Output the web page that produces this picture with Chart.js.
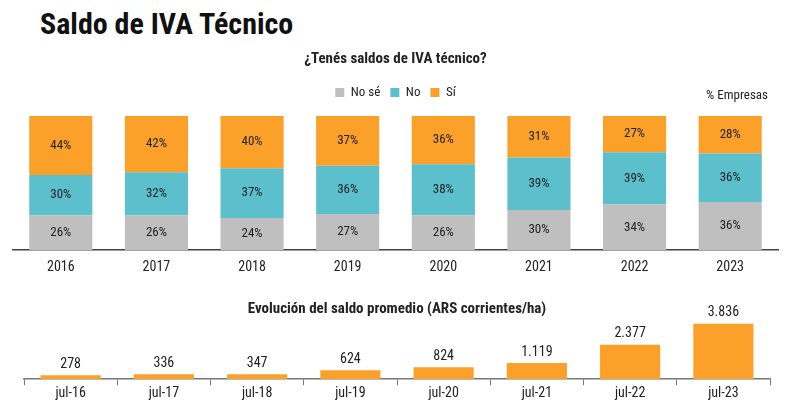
<!DOCTYPE html>
<html>
<head>
<meta charset="utf-8">
<script src="https://cdn.jsdelivr.net/npm/chart.js@4.4.0/dist/chart.umd.min.js"></script>
<style>
  html, body { margin: 0; padding: 0; background: #fff; }
  body { width: 790px; height: 407px; position: relative; overflow: hidden; }
  #title {
    position: absolute; left: 40px; top: 6px;
    font-family: 'Roboto Condensed', 'Liberation Sans Narrow', 'DejaVu Sans Condensed', Roboto, sans-serif;
    font-weight: bold; font-size: 30px; color: #111; white-space: nowrap;
  }
  #top-wrap { position: absolute; left: 0; top: 40px; width: 790px; height: 237px; }
  #bottom-wrap { position: absolute; left: 0; top: 288px; width: 790px; height: 115px; }
</style>
</head>
<body>
<div id="title">Saldo de IVA Técnico</div>
<div id="top-wrap"><canvas id="shareChart"></canvas></div>
<div id="bottom-wrap"><canvas id="saldoChart"></canvas></div>
<script>
const FONT = "'Roboto Condensed', 'Liberation Sans Narrow', 'DejaVu Sans Condensed', Roboto, sans-serif";

// % de empresas por respuesta
const years = ['2016', '2017', '2018', '2019', '2020', '2021', '2022', '2023'];
const noSe = [26, 26, 24, 27, 26, 30, 34, 36];
const no = [30, 32, 37, 36, 38, 39, 39, 36];
const si = [44, 42, 40, 37, 36, 31, 27, 28];

// saldo promedio, ARS corrientes/ha
const months = ['jul-16', 'jul-17', 'jul-18', 'jul-19', 'jul-20', 'jul-21', 'jul-22', 'jul-23'];
const saldo = [278, 336, 347, 624, 824, 1119, 2377, 3836];

const GRAY = '#BFBFBF';
const TEAL = '#5BBFCC';
const ORANGE = '#FBA12A';
const TEXT = '#222';

Chart.defaults.font.family = FONT;
Chart.defaults.color = TEXT;
Chart.defaults.animation = false;

function fmtMiles(v) {
    return String(v).replace(/\B(?=(\d{3})+(?!\d))/g, '.');
}

// etiquetas centradas en cada segmento
const stackLabels = {
    id: 'stackLabels',
    afterDatasetsDraw(chart) {
        const ctx = chart.ctx;
        ctx.save();
        ctx.font = '13px ' + FONT;
        ctx.fillStyle = TEXT;
        ctx.textAlign = 'center';
        ctx.textBaseline = 'middle';
        chart.data.datasets.forEach((ds, i) => {
            chart.getDatasetMeta(i).data.forEach((bar, j) => {
                const y = (bar.y + bar.base) / 2;
                ctx.fillText(ds.data[j] + '%', bar.x, y);
            });
        });
        ctx.textAlign = 'right';
        ctx.fillText('% Empresas', 768, 56);
        ctx.restore();
    }
};

// un poco de aire entre la leyenda y las barras
const legendMargin = {
    id: 'legendMargin',
    beforeInit(chart) {
        const fit = chart.legend.fit;
        chart.legend.fit = function () {
            fit.bind(chart.legend)();
            this.height += 7;
        };
    }
};

// etiquetas sobre cada barra
const topLabels = {
    id: 'topLabels',
    afterDatasetsDraw(chart) {
        const ctx = chart.ctx;
        ctx.save();
        ctx.font = '14px ' + FONT;
        ctx.fillStyle = TEXT;
        ctx.textAlign = 'center';
        ctx.textBaseline = 'bottom';
        const ds = chart.data.datasets[0];
        chart.getDatasetMeta(0).data.forEach((bar, j) => {
            ctx.fillText(fmtMiles(ds.data[j]), bar.x, bar.y - 4);
        });
        ctx.restore();
    }
};

new Chart(document.getElementById('shareChart'), {
    type: 'bar',
    data: {
        labels: years,
        datasets: [
            { label: 'No sé', data: noSe, backgroundColor: GRAY },
            { label: 'No', data: no, backgroundColor: TEAL },
            { label: 'Sí', data: si, backgroundColor: ORANGE }
        ]
    },
    options: {
        responsive: true,
        maintainAspectRatio: false,
        layout: { padding: { left: 13, right: 12, bottom: 0 } },
        datasets: { bar: { barPercentage: 0.66, categoryPercentage: 1 } },
        plugins: {
            title: {
                display: true,
                text: '¿Tenés saldos de IVA técnico?',
                font: { size: 15, weight: 'bold' },
                color: TEXT,
                padding: { top: 10, bottom: 8 }
            },
            legend: {
                display: true,
                labels: { boxWidth: 9, boxHeight: 9, font: { size: 13 }, color: TEXT, padding: 10 }
            },
            tooltip: { enabled: false }
        },
        scales: {
            x: {
                stacked: true,
                grid: { display: false },
                border: { display: true, color: '#404040', width: 1.5 },
                ticks: { font: { size: 14 }, color: TEXT, padding: 1 }
            },
            y: {
                stacked: true,
                display: false,
                min: 0,
                max: 100
            }
        }
    },
    plugins: [stackLabels, legendMargin]
});

new Chart(document.getElementById('saldoChart'), {
    type: 'bar',
    data: {
        labels: months,
        datasets: [
            { label: 'Saldo promedio', data: saldo, backgroundColor: ORANGE }
        ]
    },
    options: {
        responsive: true,
        maintainAspectRatio: false,
        layout: { padding: { left: 24, right: 20, bottom: 1 } },
        datasets: { bar: { barPercentage: 0.645, categoryPercentage: 1 } },
        plugins: {
            title: {
                display: true,
                text: 'Evolución del saldo promedio (ARS corrientes/ha)',
                font: { size: 15, weight: 'bold' },
                color: TEXT,
                padding: { top: 12, bottom: 2 }
            },
            legend: { display: false },
            tooltip: { enabled: false }
        },
        scales: {
            x: {
                grid: {
                    offset: true,
                    drawOnChartArea: false,
                    drawTicks: true,
                    tickLength: 6,
                    color: '#777'
                },
                border: { display: true, color: '#777', width: 1.5 },
                ticks: { font: { size: 14 }, color: TEXT, padding: 0 }
            },
            y: {
                display: false,
                min: 0,
                max: 4094
            }
        }
    },
    plugins: [topLabels]
});
</script>
</body>
</html>
